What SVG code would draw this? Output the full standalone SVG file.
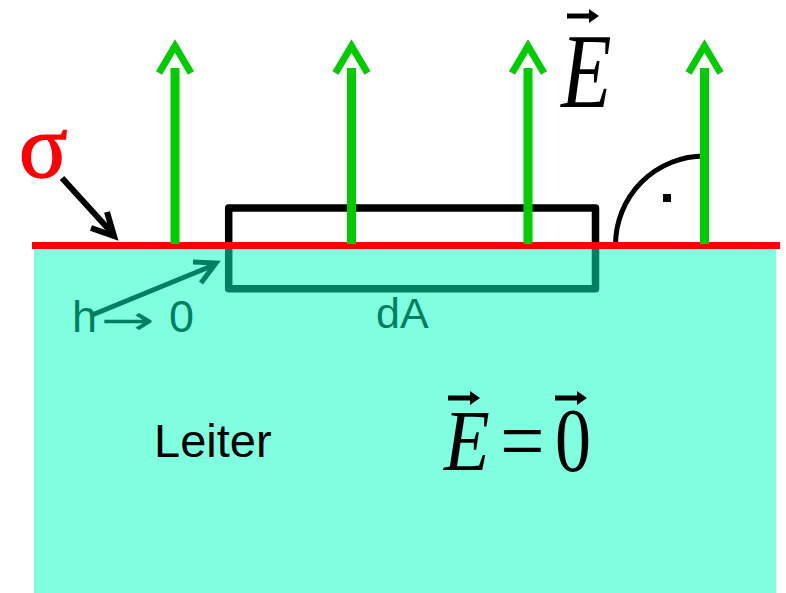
<svg xmlns="http://www.w3.org/2000/svg" width="786" height="593" viewBox="0 0 786 593">
<style>
.g{stroke:#00CC00;stroke-width:9;fill:none}
.gh{stroke:#00CC00;stroke-width:7;fill:none;stroke-linejoin:miter}
.sans{font-family:"Liberation Sans",Arial,sans-serif}
.ser{font-family:"Liberation Serif","Times New Roman",serif}
.teal{fill:#008060}
.va{fill:#000}
</style>
<defs>
<g id="garrow">
<line class="g" x1="0" y1="68" x2="0" y2="244"/>
<polyline class="gh" points="-16,73 0,46 16,73"/>
</g>
<path id="varrow" d="M0,-2.5 H22 V-7 L32,0 L22,7 V2.5 H0 Z"/>
</defs>
<g id="conductor">
<rect x="34" y="248" width="742" height="345" fill="#80FFE0"/>
</g>
<g id="gauss-box">
<path d="M228.7,245 V288.7 H595.5 V245" fill="none" stroke="#008060" stroke-width="7.5" stroke-linejoin="round"/>
<path d="M228.7,245 V208 H595.5 V245" fill="none" stroke="#000" stroke-width="7.5" stroke-linejoin="round"/>
</g>
<g id="right-angle">
<path d="M615.5,245 A89,89 0 0 1 704.5,156" fill="none" stroke="#000" stroke-width="5"/>
<rect x="663" y="194" width="8" height="8" fill="#000"/>
</g>
<g id="surface">
<line x1="32" y1="245.5" x2="780" y2="245.5" stroke="#FF0000" stroke-width="7"/>
</g>
<g id="connectors">
<use href="#garrow" transform="translate(175,0)"/>
<use href="#garrow" transform="translate(351.5,0)"/>
<use href="#garrow" transform="translate(528,0)"/>
<use href="#garrow" transform="translate(704.5,0)"/>
<g id="sigma-arrow" stroke="#000" stroke-width="6" fill="none">
<line x1="62" y1="178" x2="113" y2="234"/>
<polyline points="91,228 114,236 107,212" stroke-linejoin="miter"/>
</g>
<g id="h-arrow" stroke="#008060" stroke-width="5" fill="none">
<line x1="92" y1="315" x2="214" y2="265"/>
<polyline points="193,262 216,263 201,283" stroke-linejoin="miter"/>
</g>
</g>
<g id="sigma-label">
<text x="19" y="177" class="ser" font-size="90" fill="#FF0000" stroke="#FF0000" stroke-width="1.5">σ</text>
</g>
<g id="E-label">
<text transform="translate(561,107) scale(0.78,1)" class="ser" font-style="italic" font-size="106">E</text>
<use href="#varrow" transform="translate(567,16)" class="va"/>
</g>
<g id="h-label" class="sans teal">
<text x="72" y="332" font-size="45">h</text>
<text x="101" y="334" font-family="DejaVu Sans" font-size="40" textLength="54" lengthAdjust="spacingAndGlyphs">→</text>
<text x="169" y="332" font-size="45">0</text>
</g>
<g id="dA-label">
<text x="376" y="328" class="sans teal" font-size="43">dA</text>
</g>
<g id="leiter-label">
<text x="154" y="457" class="sans" font-size="47">Leiter</text>
</g>
<g id="E0-label">
<text transform="translate(444,470) scale(0.87,1)" class="ser" font-style="italic" font-size="86">E</text>
<text transform="translate(500,470) scale(0.92,1)" class="ser" font-size="86">=</text>
<text transform="translate(555,471) scale(0.8,1)" class="ser" font-size="90">0</text>
<use href="#varrow" transform="translate(448,398)" class="va"/>
<use href="#varrow" transform="translate(555,398)" class="va"/>
</g>
</svg>
